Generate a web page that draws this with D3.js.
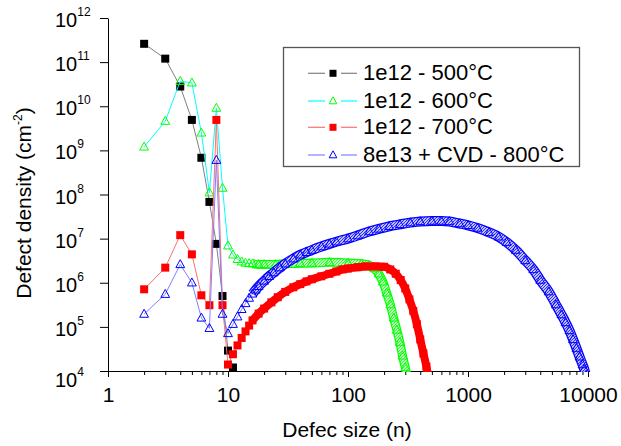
<!DOCTYPE html>
<html><head><meta charset="utf-8">
<script src="https://cdn.jsdelivr.net/npm/d3@7"></script>
<style>
body{margin:0;background:#fff}
svg{display:block}
text{font-family:"Liberation Sans",Arial,sans-serif;fill:#000}
</style>
</head><body>
<svg id="c" width="621" height="446"></svg>
<script>
// ---------------- data ----------------
const seriesNames = ["1e12 - 500°C", "1e12 - 600°C", "1e12 - 700°C", "8e13 + CVD - 800°C"];

const sizes500 = [2,3,4,5,6,7,8,9,10,11];
const density500 = [2.6e11,1.2e11,2.8e10,4.9e9,6.8e8,6.8e7,7.6e6,5.0e5,2.9e4,1.2e4];

const sizes600 = [2,3,4,5,6,7,8,9,10,11,12,13,14,15,16,18,20,25,30,40,50,70,100,130,150,165,180,195,210,225,240,255,270,285,300,310];
const density600 = [1.2e9,4.6e9,3.7e10,3.4e10,2.5e9,1.1e8,9.1e9,1.4e8,6.9e6,4.3e6,3.4e6,3.0e6,2.8e6,2.75e6,2.7e6,2.6e6,2.6e6,2.6e6,2.7e6,2.75e6,2.8e6,2.9e6,2.8e6,2.7e6,2.5e6,2.1e6,1.6e6,1.05e6,5.9e5,3.2e5,1.6e5,8.5e4,4.5e4,2.2e4,1.2e4,7.9e3];

const sizes700 = [2,3,4,5,6,7,8,9,10,11,12,13,14,15,16,18,20,23,26,30,35,40,45,50,60,70,80,90,100,120,140,170,200,225,250,275,300,325,350,375,400,425,450,470];
const density700 = [7.1e5,2.2e6,1.2e7,4.4e6,5.2e5,3.1e5,4.9e9,3.1e5,1.4e4,2.4e4,3.8e4,5.6e4,7.9e4,1.07e5,1.4e5,2.0e5,2.6e5,3.6e5,4.7e5,6.2e5,7.9e5,9.3e5,1.07e6,1.2e6,1.4e6,1.6e6,1.8e6,2.0e6,2.1e6,2.25e6,2.35e6,2.35e6,2.3e6,2.0e6,1.6e6,1.15e6,7.4e5,4.2e5,2.3e5,1.15e5,5.2e4,2.5e4,1.26e4,7e3];

const sizes800 = [2,3,4,5,6,7,8,9,10,11,12,13,14,15,16,17,18,20,22,24,27,30,35,40,45,50,60,70,80,100,120,150,180,220,270,330,400,500,600,700,850,1000,1200,1500,1800,2100,2500,3000,3500,4000,4700,5400,6000,6500,7000,7500,8000,8500,9000,9300,9600];
const density800 = [1.95e5,5.5e5,2.6e6,1.0e6,1.6e5,9.3e4,6.0e8,1.95e5,7.1e4,1.15e5,1.7e5,2.5e5,3.4e5,4.5e5,5.6e5,6.9e5,8.3e5,1.1e6,1.4e6,1.7e6,2.2e6,2.7e6,3.5e6,4.3e6,4.9e6,5.5e6,6.6e6,7.6e6,8.5e6,1.0e7,1.17e7,1.45e7,1.66e7,1.9e7,2.1e7,2.3e7,2.45e7,2.5e7,2.5e7,2.45e7,2.2e7,2.0e7,1.74e7,1.38e7,1.1e7,8.3e6,5.5e6,3.2e6,2.0e6,1.15e6,6.3e5,3.2e5,1.9e5,1.26e5,8.3e4,5.2e4,3.3e4,2.1e4,1.4e4,1.1e4,8e3];

const xMajorTicks = [1,10,100,1000,10000];
const xTickLabels = ["1","10","100","1000","10000"];
const yTickExponents = [4,5,6,7,8,9,10,11,12];

const xTitle = "Defec size (n)";
const yTitle = "Defect density (cm";
const yTitleSup = "-2";

// ---------------- styles ----------------
const styles = [
  {marker:"square",   mColor:"#000000", lColor:"#808080", band:null},
  {marker:"triangle", mColor:"#00ff00", lColor:"#00ffff", band:"hatchG"},
  {marker:"square",   mColor:"#ff0000", lColor:"#ff7070", band:"solid"},
  {marker:"triangle", mColor:"#0000ff", lColor:"#8080ff", band:"hatchB"}
];
const allSizes = [sizes500, sizes600, sizes700, sizes800];
const allDens = [density500, density600, density700, density800];
const BAND_FROM = 16;

const svg = d3.select("#c");
const L = 108, R = 588, T = 18, B = 371;
const x = d3.scaleLog().domain([1,10000]).range([L,R]);
const y = d3.scaleLog().domain([1e4,1e12]).range([B,T]);

// defs: clip + hatch patterns
const defs = svg.append("defs");
defs.append("clipPath").attr("id","plot").append("rect")
  .attr("x",L).attr("y",0).attr("width",R-L+6).attr("height",B+1);
function hatch(id,color){
  const p = defs.append("pattern").attr("id",id).attr("patternUnits","userSpaceOnUse")
    .attr("width",3).attr("height",3);
  p.append("rect").attr("width",3).attr("height",3).attr("fill","#fff").attr("fill-opacity",0.75);
  p.append("path").attr("d","M-1,1 L1,-1 M0,3 L3,0 M2,4 L4,2")
    .attr("stroke",color).attr("stroke-width",0.75);
}
hatch("hatchB","#0000ff");
hatch("hatchG","#00ff00");

// axes
const xAxisG = svg.append("g").attr("transform",`translate(0,${B})`);
const minor = [];
for (let k=0;k<4;k++) for (let m=2;m<=9;m++) minor.push(m*Math.pow(10,k));
xAxisG.call(d3.axisBottom(x).tickValues(minor).tickSize(4).tickSizeOuter(0).tickFormat(""));
xAxisG.append("g").call(d3.axisBottom(x).tickValues(xMajorTicks).tickSize(6).tickSizeOuter(0)
  .tickFormat((d,i)=>xTickLabels[i]));
xAxisG.selectAll(".domain").attr("stroke","#000");
xAxisG.selectAll("text").attr("dy",0).attr("y",31).style("font-size","21px")
  .style("font-family",'"Liberation Sans",Arial,sans-serif').attr("fill","#000");

const yVals = yTickExponents.map(e=>Math.pow(10,e));
const yAxisG = svg.append("g").attr("transform",`translate(${L},0)`);
yAxisG.call(d3.axisLeft(y).tickValues(yVals).tickSize(8).tickSizeOuter(0).tickFormat(""));
const yl = svg.append("g").selectAll("text").data(yTickExponents).join("text")
  .attr("x",55).attr("y",d=>y(Math.pow(10,d)) + (d===4?16:9))
  .style("font-size","20px");
yl.append("tspan").text("10");
yl.append("tspan").attr("dy",-11).style("font-size","12px").text(d=>d);

// titles
svg.append("text").attr("x",347).attr("y",437).attr("text-anchor","middle")
  .style("font-size","21px").text(xTitle);
const yt = svg.append("text").attr("transform","translate(31,203) rotate(-90)")
  .attr("text-anchor","middle").style("font-size","21px");
yt.append("tspan").text(yTitle);
yt.append("tspan").attr("dy",-9).style("font-size","12px").text(yTitleSup);
yt.append("tspan").attr("dy",9).text(")");

// series
const plot = svg.append("g").attr("clip-path","url(#plot)");
const thin = d3.line().x(d=>x(d[0])).y(d=>y(d[1]));
const smooth = d3.line().x(d=>x(d[0])).y(d=>y(d[1])).curve(d3.curveMonotoneX);

function drawMarker(g, type, color, cx, cy, s){
  if (type==="square"){
    g.append("rect").attr("x",cx-s/2).attr("y",cy-s/2).attr("width",s).attr("height",s)
      .attr("fill",color);
  } else {
    const w = s*1.1, h = s;
    g.append("path").attr("d",`M${cx},${cy-h*0.6} L${cx+w/2},${cy+h*0.4} L${cx-w/2},${cy+h*0.4} Z`)
      .attr("fill","none").attr("stroke",color).attr("stroke-width",1);
  }
}

styles.forEach((st,i)=>{
  const pts = allSizes[i].map((n,j)=>[n, allDens[i][j]]);
  const g = plot.append("g");
  g.append("path").attr("d",thin(pts)).attr("fill","none").attr("stroke",st.lColor).attr("stroke-width",1);
  const bandPts = pts.filter(p=>p[0]>=BAND_FROM);
  if (st.band==="solid"){
    g.append("path").attr("d",smooth(bandPts)).attr("fill","none").attr("stroke",st.mColor)
      .attr("stroke-width",8).attr("stroke-linejoin","round");
  } else if (st.band){
    const wOut = st.band==="hatchB"?10:9, wIn = st.band==="hatchB"?7.5:6.5;
    g.append("path").attr("d",smooth(bandPts)).attr("fill","none").attr("stroke",st.mColor)
      .attr("stroke-width",wOut).attr("stroke-linejoin","round");
    g.append("path").attr("d",smooth(bandPts)).attr("fill","none").attr("stroke",`url(#${st.band})`)
      .attr("stroke-width",wIn).attr("stroke-linejoin","round");
  }
  pts.forEach(p=>drawMarker(g, st.marker, st.mColor, x(p[0]), y(p[1]), 8));
});

// legend
const lg = svg.append("g");
lg.append("rect").attr("x",283.5).attr("y",47.5).attr("width",296).attr("height",119)
  .attr("fill","#fff").attr("stroke","#555").attr("stroke-width",1.3);
const rowY = [73.3,101,127.3,155];
seriesNames.forEach((name,i)=>{
  const st = styles[i], cy = rowY[i];
  lg.append("line").attr("x1",308).attr("x2",325).attr("y1",cy).attr("y2",cy).attr("stroke",st.lColor).attr("stroke-width",1.2);
  lg.append("line").attr("x1",341).attr("x2",357).attr("y1",cy).attr("y2",cy).attr("stroke",st.lColor).attr("stroke-width",1.2);
  drawMarker(lg, st.marker, st.mColor, 333, cy, 7);
  lg.append("text").attr("x",363).attr("y",cy+6.5).style("font-size","22px").text(name);
});
</script>
</body></html>
